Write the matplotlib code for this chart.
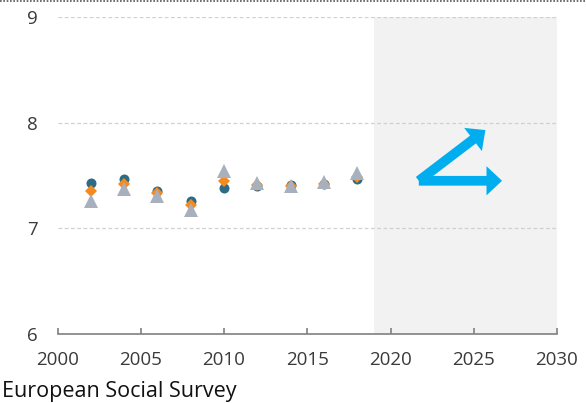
import numpy as np
import matplotlib
matplotlib.use('Agg')
import matplotlib.pyplot as plt
from matplotlib.lines import Line2D

plt.rcParams['font.family'] = ['Open Sans', 'DejaVu Sans']

# ── data ───────────────────────────────────────────────────────────────────────
years    = [2002, 2004, 2006, 2008, 2010, 2012, 2014, 2016, 2018]
circles  = [7.43, 7.47, 7.35, 7.26, 7.38, 7.40, 7.41, 7.42, 7.47]
diamonds = [7.35, 7.42, 7.33, 7.22, 7.45, 7.41, 7.40, 7.42, 7.49]
triangles = [7.26, 7.37, 7.31, 7.17, 7.54, 7.43, 7.40, 7.44, 7.52]

arrow_start = (2021.7, 7.45)
arrow_up    = (2025.7, 7.93)
arrow_flat  = (2026.7, 7.45)

x_ticks = [2000, 2005, 2010, 2015, 2020, 2025, 2030]
y_ticks = [6, 7, 8, 9]
source  = 'European Social Survey'

C_CIRCLE = '#2e6b85'
C_DIAMOND = '#f58a1f'
C_TRI = '#a7b0bc'
C_ARROW = '#00aeef'

# ── figure ─────────────────────────────────────────────────────────────────────
fig = plt.figure(figsize=(5.86, 4.03), dpi=100)
ax = fig.add_axes([57.5/586, 1 - 334/403, (557-57.5)/586, (334-17)/403])

ax.axvspan(2019, 2030, color='#f2f2f2', zorder=0, lw=0)

for yv in [7, 8, 9]:
    ax.axhline(yv, color='#d0d0d0', lw=0.9, ls=(0, (3, 2)), zorder=1)

ax.plot(years, circles, 'o', color=C_CIRCLE, ms=7.2, zorder=3, mew=0)
ax.plot(years, diamonds, 'D', color=C_DIAMOND, ms=6.5, zorder=4, mew=0)
ax.plot(years, triangles, '^', color=C_TRI, ms=9.5, zorder=5, mew=0)

style = 'simple,head_width=1.5,head_length=0.8,tail_width=0.5'
for tip in (arrow_up, arrow_flat):
    ax.annotate('', xy=tip, xytext=arrow_start,
                arrowprops=dict(arrowstyle=style, color=C_ARROW, lw=0,
                                mutation_scale=14, shrinkA=0, shrinkB=0),
                zorder=6)

ax.set_xlim(2000, 2030)
ax.set_ylim(6, 9)
ax.set_xticks(x_ticks)
ax.set_yticks(y_ticks)

for s in ['top', 'right', 'left']:
    ax.spines[s].set_visible(False)
ax.spines['bottom'].set_color('#808080')
ax.spines['bottom'].set_linewidth(1.2)
ax.tick_params(axis='x', direction='in', length=4, width=1.2, color='#808080',
               labelsize=13.5, labelcolor='#3a3a3a', pad=12)
ax.tick_params(axis='y', length=0, labelsize=13.5, labelcolor='#3a3a3a', pad=14)

fig.text(2/586, 1 - 391/403, source, fontsize=15.5, color='#111111', va='center')

# dotted border at the top
fig.add_artist(Line2D([0, 1], [0.998, 0.998], transform=fig.transFigure,
                      color='#555555', lw=1.2, ls=(0, (1, 1))))

fig.savefig('out.png', dpi=100)
